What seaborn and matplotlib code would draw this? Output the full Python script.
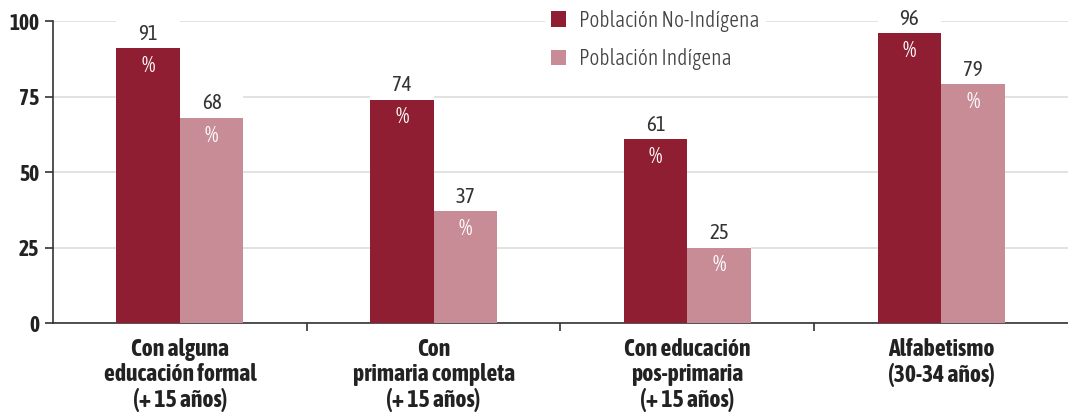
import pandas as pd
import matplotlib.pyplot as plt
import seaborn as sns
from matplotlib.patches import Rectangle

categorias = [
    "Con alguna\neducación formal\n(+ 15 años)",
    "Con\nprimaria completa\n(+ 15 años)",
    "Con educación\npos-primaria\n(+ 15 años)",
    "Alfabetismo\n(30-34 años)",
]
series = ["Población No-Indígena", "Población Indígena"]
no_indigena = [91, 74, 61, 96]
indigena = [68, 37, 25, 79]
colores = ["#8F1E33", "#C88C97"]

# long format for seaborn
df = pd.DataFrame({
    "categoria": categorias * 2,
    "poblacion": [series[0]] * 4 + [series[1]] * 4,
    "valor": no_indigena + indigena,
})

sns.set_style("white")
plt.rcParams["font.family"] = ["Asap Condensed", "DejaVu Sans"]

fig = plt.figure(figsize=(10.68, 4.17), dpi=100)
ax = fig.add_axes([0.0496, 0.2254, 0.9504, 0.7242])

sns.barplot(data=df, x="categoria", y="valor", hue="poblacion", palette=colores,
            width=0.5, saturation=1, linewidth=0, ax=ax, zorder=3)

ax.set_ylim(0, 100)
ax.set_xlim(-0.5, 3.5)
ax.set_yticks([0, 25, 50, 75, 100])
ax.yaxis.grid(True, color="#DDDDDD", linewidth=1.2, zorder=0)
ax.set_axisbelow(True)
ax.set_xlabel("")
ax.set_ylabel("")

for s in ["top", "right"]:
    ax.spines[s].set_visible(False)
for s in ["left", "bottom"]:
    ax.spines[s].set_color("#333333")
    ax.spines[s].set_linewidth(1.2)

ax.tick_params(axis="y", length=6, width=1.2, color="#333333", pad=4,
               labelsize=15.5, left=True)
for t in ax.get_yticklabels():
    t.set_fontweight("bold")
    t.set_color("#222222")

ax.tick_params(axis="x", which="major", length=0, pad=11, labelsize=17)
ax.set_xticks([0.5, 1.5, 2.5], minor=True)
ax.tick_params(axis="x", which="minor", length=6, width=1.2, color="#333333",
               bottom=True, direction="out")
for t in ax.get_xticklabels():
    t.set_fontweight("bold")
    t.set_color("#222222")
    t.set_linespacing(1.1)

# value labels, with white area above each bar covering the grid
for cont, vals in zip(ax.containers, [no_indigena, indigena]):
    for bar, v in zip(cont, vals):
        x = bar.get_x() + bar.get_width() / 2
        ax.add_patch(Rectangle((bar.get_x(), v), bar.get_width(), 10,
                               facecolor="white", edgecolor="none", zorder=1,
                               clip_on=False))
        ax.annotate(str(v), (x, v), xytext=(0, 3), textcoords="offset points",
                    ha="center", va="bottom", fontsize=15, color="#333333",
                    zorder=5, annotation_clip=False)
        ax.annotate("%", (x, v), xytext=(0, -5), textcoords="offset points",
                    ha="center", va="top", fontsize=15.5, color="white", zorder=5)

handles, labels = ax.get_legend_handles_labels()
leg = ax.legend(handles, labels, loc="upper left", bbox_to_anchor=(0.474, 1.095),
                frameon=True, prop={"family": ["Asap Condensed", "DejaVu Sans"],
                                    "weight": 300, "size": 15.5},
                handlelength=0.7, handleheight=0.7,
                handletextpad=0.6, labelspacing=0.75, borderpad=0.3)
leg.get_frame().set_facecolor("white")
leg.get_frame().set_edgecolor("none")
leg.get_frame().set_alpha(1)
leg.set_zorder(6)
for t in leg.get_texts():
    t.set_color("#444444")

fig.savefig("out.png", dpi=100)
